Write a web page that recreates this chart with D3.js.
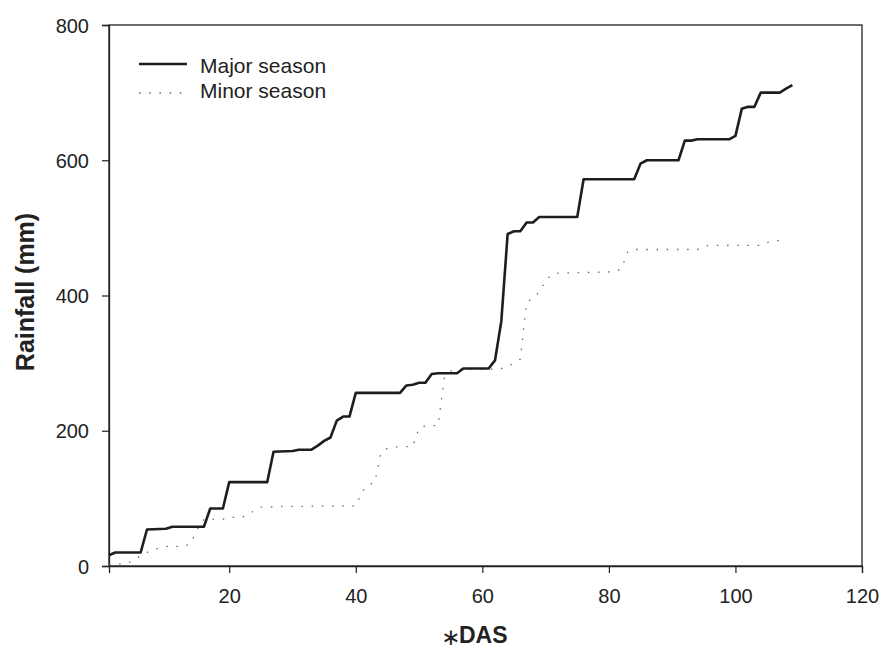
<!DOCTYPE html>
<html>
<head>
<meta charset="utf-8">
<script src="https://cdn.jsdelivr.net/npm/d3@7"></script>
<style>
  html, body { margin: 0; padding: 0; background: #fff; }
  svg { display: block; font-family: "Liberation Sans", Arial, sans-serif; }
</style>
</head>
<body>
<svg id="chart" width="881" height="650"></svg>
<script>
// ---- data ----
const majorDays =  [1, 2, 6, 7, 10, 11, 16, 17, 19, 20, 26, 27, 30, 31, 33, 34, 35, 36, 37, 38, 39, 40, 47, 48, 49, 50, 51, 52, 53, 56, 57, 61, 62, 63, 64, 65, 66, 67, 68, 69, 75, 76, 84, 85, 86, 91, 92, 93, 94, 99, 100, 101, 102, 103, 104, 107, 108, 109];
const majorRain =  [16, 20, 20, 54, 55, 58, 58, 85, 85, 124, 124, 169, 170, 172, 172, 178, 185, 190, 215, 221, 221, 256, 256, 267, 268, 271, 271, 284, 285, 285, 292, 292, 304, 362, 491, 495, 495, 508, 508, 516, 516, 572, 572, 595, 600, 600, 629, 629, 631, 631, 636, 676, 679, 679, 700, 700, 706, 711];
const minorDays =  [1, 2, 3, 4, 5, 6, 7, 8, 9, 10, 13, 14, 15, 16, 19, 20, 22, 23, 24, 25, 28, 40, 41, 42, 43, 44, 45, 46, 49, 50, 51, 53, 54, 55, 56, 62, 63, 64, 65, 66, 67, 68, 69, 70, 71, 72, 81, 82, 83, 84, 94, 95, 96, 104, 105, 106, 108];
const minorRain =  [2, 3, 3, 4, 10, 15, 20, 24, 27, 29, 29, 35, 55, 69, 69, 72, 72, 76, 82, 87, 88, 89, 110, 120, 124, 168, 174, 176, 177, 204, 207, 208, 278, 288, 291, 291, 292, 295, 300, 306, 390, 396, 405, 422, 431, 433, 435, 440, 465, 468, 468, 473, 474, 474, 478, 481, 481];
const xTicks = [20, 40, 60, 80, 100, 120];
const yTicks = [0, 200, 400, 600, 800];
const seriesNames = ["Major season", "Minor season"];

// ---- layout ----
const svg = d3.select("#chart");
const L = 109, R = 862, T = 25, B = 566;
const x = d3.scaleLinear().domain([1, 120]).range([L, R]);
const y = d3.scaleLinear().domain([0, 800]).range([B, T]);
const FONT = "'Liberation Sans', Arial, sans-serif";

// frame
svg.append("rect").attr("x", L).attr("y", T).attr("width", R - L).attr("height", B - T)
  .attr("fill", "none").attr("stroke", "#222").attr("stroke-width", 1.3);

// axes
const xAxis = svg.append("g").attr("transform", `translate(0,${B})`)
  .call(d3.axisBottom(x).tickValues(xTicks).tickSize(7).tickPadding(16).tickFormat(d3.format("d")));
const yAxis = svg.append("g").attr("transform", `translate(${L},0)`)
  .call(d3.axisLeft(y).tickValues(yTicks).tickSize(7).tickPadding(13).tickFormat(d3.format("d")));
[xAxis, yAxis].forEach(g => {
  g.select(".domain").attr("stroke", "#222").attr("stroke-width", 1.3);
  g.selectAll(".tick line").attr("stroke", "#222").attr("stroke-width", 1.2);
  g.selectAll(".tick text").attr("fill", "#222").attr("font-size", 20).attr("font-family", FONT);
});
yAxis.selectAll(".tick text").attr("dy", "0.36em");

// lines
const line = d3.line().x(d => x(d[0])).y(d => y(d[1]));
const majorData = majorDays.map((d, i) => [d, majorRain[i]]);
const minorData = minorDays.map((d, i) => [d, minorRain[i]]);

svg.append("path").datum(minorData).attr("d", line)
  .attr("fill", "none").attr("stroke", "#6a6a6a").attr("stroke-width", 1.3)
  .attr("stroke-dasharray", "1.5,8.7");
svg.append("path").datum(majorData).attr("d", line)
  .attr("fill", "none").attr("stroke", "#1e1e1e").attr("stroke-width", 2.6)
  .attr("stroke-linejoin", "round");

// legend
const leg = svg.append("g");
leg.append("line").attr("x1", 139).attr("x2", 187).attr("y1", 64).attr("y2", 64)
  .attr("stroke", "#1e1e1e").attr("stroke-width", 2.6);
leg.append("line").attr("x1", 139).attr("x2", 187).attr("y1", 93).attr("y2", 93)
  .attr("stroke", "#6a6a6a").attr("stroke-width", 1.3).attr("stroke-dasharray", "1.5,8.7");
leg.append("text").attr("x", 200).attr("y", 73).text(seriesNames[0])
  .attr("font-size", 21).attr("fill", "#222");
leg.append("text").attr("x", 200).attr("y", 98).text(seriesNames[1])
  .attr("font-size", 21).attr("fill", "#222");

// axis titles
svg.append("text").attr("transform", "translate(34,292) rotate(-90)")
  .attr("text-anchor", "middle").attr("font-size", 25).attr("font-weight", "bold")
  .attr("fill", "#222").text("Rainfall (mm)");
svg.append("text").attr("x", 441).attr("y", 645).attr("font-size", 23)
  .attr("font-family", "'DejaVu Sans', sans-serif")
  .attr("fill", "#222").text("\u2217");
svg.append("text").attr("x", 459).attr("y", 643).attr("font-size", 23)
  .attr("font-weight", "bold").attr("fill", "#222").text("DAS");
</script>
</body>
</html>
